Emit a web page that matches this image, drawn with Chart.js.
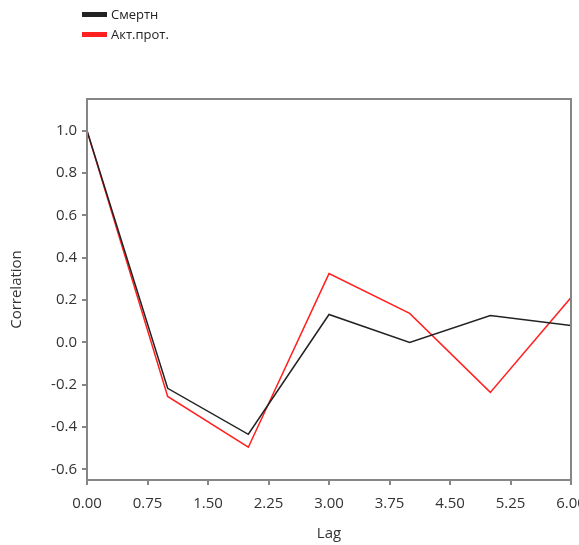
<!DOCTYPE html>
<html>
<head>
<meta charset="utf-8">
<script src="https://cdn.jsdelivr.net/npm/chart.js@4/dist/chart.umd.min.js"></script>
<style>
  html, body { margin: 0; padding: 0; background: #fff; overflow: hidden; }
  #wrap { width: 600px; height: 545px; }
</style>
</head>
<body>
<div id="wrap"><canvas id="acfChart" width="600" height="545"></canvas></div>
<script>
const lags = [0, 1, 2, 3, 4, 5, 6];
const deaths = [1.0, -0.217, -0.434, 0.132, 0.0, 0.127, 0.08];
const activeProt = [1.0, -0.255, -0.495, 0.325, 0.137, -0.236, 0.212];
const seriesNames = ["Смертн", "Акт.прот."];
const xTicks = [0, 0.75, 1.5, 2.25, 3, 3.75, 4.5, 5.25, 6];
const yTicks = [-0.6, -0.4, -0.2, 0, 0.2, 0.4, 0.6, 0.8, 1.0];

const FONT = "'Open Sans', 'Noto Sans', sans-serif";
const frameColor = "#868686";

// box around the plot area
const framePlugin = {
  id: "frame",
  afterDatasetsDraw(chart) {
    const { ctx, chartArea: a } = chart;
    ctx.save();
    ctx.strokeStyle = frameColor;
    ctx.lineWidth = 2;
    ctx.strokeRect(a.left, a.top, a.right - a.left, a.bottom - a.top);
    ctx.restore();
  },
};

// stacked legend in the top-left corner
const legendPlugin = {
  id: "stackLegend",
  afterDraw(chart) {
    const { ctx, chartArea } = chart;
    const x = chartArea.left - 5;
    ctx.save();
    ctx.font = "13px " + FONT;
    ctx.textBaseline = "middle";
    chart.data.datasets.forEach((ds, i) => {
      const y = 14 + i * 20;
      ctx.fillStyle = ds.borderColor;
      ctx.fillRect(x, y - 2, 25, 5);
      ctx.fillStyle = "#222";
      ctx.fillText(ds.label, x + 29, y + 1);
    });
    ctx.restore();
  },
};

new Chart(document.getElementById("acfChart"), {
  type: "line",
  data: {
    labels: lags,
    datasets: [
      {
        label: seriesNames[0],
        data: lags.map((l, i) => ({ x: l, y: deaths[i] })),
        borderColor: "#222222",
        borderWidth: 1.5,
        pointRadius: 0,
        tension: 0,
        fill: false,
      },
      {
        label: seriesNames[1],
        data: lags.map((l, i) => ({ x: l, y: activeProt[i] })),
        borderColor: "#ff2020",
        borderWidth: 1.5,
        pointRadius: 0,
        tension: 0,
        fill: false,
      },
    ],
  },
  options: {
    responsive: false,
    animation: false,
    layout: { padding: { top: 99, right: 29, left: 0, bottom: 0 } },
    plugins: {
      legend: { display: false },
      tooltip: { enabled: false },
    },
    scales: {
      x: {
        type: "linear",
        min: 0,
        max: 6,
        afterBuildTicks: (s) => { s.ticks = xTicks.map((v) => ({ value: v })); },
        afterFit: (s) => { s.height = 65; },
        grid: { drawOnChartArea: false, drawTicks: true, tickLength: 5, color: frameColor, lineWidth: 2 },
        border: { color: frameColor, width: 2 },
        ticks: {
          color: "#333",
          font: { family: FONT, size: 15 },
          padding: 10,
          maxRotation: 0,
          autoSkip: false,
          callback: (v) => Number(v).toFixed(2),
        },
        title: {
          display: true,
          text: "Lag",
          color: "#333",
          font: { family: FONT, size: 15 },
          padding: { top: 4, bottom: 2 },
        },
      },
      y: {
        min: -0.65,
        max: 1.15,
        afterBuildTicks: (s) => { s.ticks = yTicks.map((v) => ({ value: v })); },
        afterFit: (s) => { s.width = 87; },
        grid: { drawOnChartArea: false, drawTicks: true, tickLength: 5, color: frameColor, lineWidth: 2 },
        border: { color: frameColor, width: 2 },
        ticks: {
          color: "#333",
          font: { family: FONT, size: 15 },
          padding: 5,
          callback: (v) => Number(v).toFixed(1),
        },
        title: {
          display: true,
          text: "Correlation",
          color: "#333",
          font: { family: FONT, size: 15 },
          padding: { top: 8, bottom: 4 },
        },
      },
    },
  },
  plugins: [framePlugin, legendPlugin],
});
</script>
</body>
</html>
